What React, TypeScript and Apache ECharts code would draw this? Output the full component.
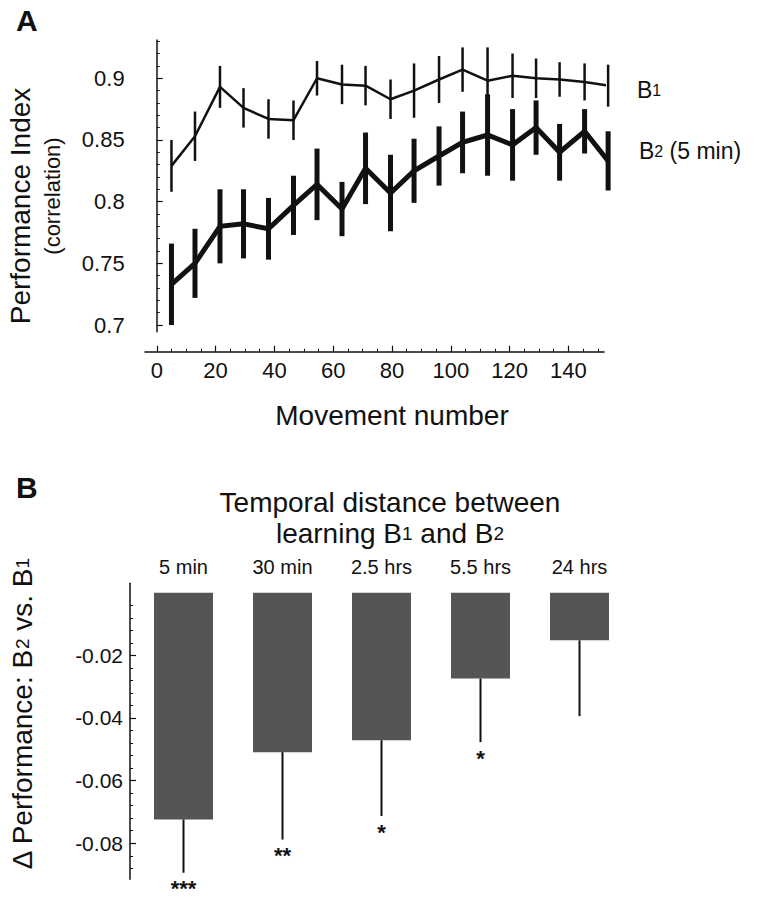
import React, { useEffect, useRef } from "react";
import * as echarts from "echarts";

// ---------- Panel A data ----------
const movement = [5, 13, 21.5, 29.5, 38, 46.5, 54.5, 63, 71, 79.5, 87.5, 96, 104, 112.5, 121, 129, 137, 145.5, 153.5];
const b1 = [0.829, 0.853, 0.893, 0.876, 0.867, 0.866, 0.9, 0.895, 0.894, 0.883, 0.89, 0.899, 0.907, 0.898, 0.902, 0.9, 0.899, 0.897, 0.894];
const b1Err = [0.021, 0.02, 0.017, 0.016, 0.016, 0.016, 0.014, 0.016, 0.016, 0.016, 0.022, 0.019, 0.018, 0.027, 0.018, 0.016, 0.014, 0.015, 0.017];
const b2 = [0.733, 0.75, 0.78, 0.782, 0.778, 0.797, 0.814, 0.794, 0.827, 0.807, 0.825, 0.837, 0.848, 0.854, 0.846, 0.86, 0.84, 0.857, 0.833];
const b2Err = [0.033, 0.028, 0.03, 0.028, 0.025, 0.024, 0.029, 0.022, 0.029, 0.031, 0.026, 0.024, 0.025, 0.033, 0.029, 0.022, 0.023, 0.018, 0.024];
const xTicksA = [0, 20, 40, 60, 80, 100, 120, 140];
const xMinorA = [0, 5, 10, 15, 20, 25, 30, 35, 40, 45, 50, 55, 60, 65, 70, 75, 80, 85, 90, 95, 100, 105, 110, 115, 120, 125, 130, 135, 140, 145, 150];
const yTicksA = [0.7, 0.75, 0.8, 0.85, 0.9];
const yMinorA = [0.7, 0.71, 0.72, 0.73, 0.74, 0.75, 0.76, 0.77, 0.78, 0.79, 0.8, 0.81, 0.82, 0.83, 0.84, 0.85, 0.86, 0.87, 0.88, 0.89, 0.9, 0.91, 0.92, 0.93];

// ---------- Panel B data ----------
const delays = ["5 min", "30 min", "2.5 hrs", "5.5 hrs", "24 hrs"];
const deltaPerf = [-0.0724, -0.0509, -0.0471, -0.0274, -0.0152];
const deltaErr = [0.017, 0.0279, 0.0242, 0.0203, 0.0242];
const stars = ["***", "**", "*", "*", ""];
const yTicksB = [-0.08, -0.06, -0.04, -0.02];
const yMinorB = [-0.088, -0.084, -0.08, -0.076, -0.072, -0.068, -0.064, -0.06, -0.056, -0.052, -0.048, -0.044, -0.04, -0.036, -0.032, -0.028, -0.024, -0.02, -0.016, -0.012, -0.008, -0.004];

const FONT = '"Liberation Sans", Arial, Helvetica, sans-serif';
const INK = "#111";

function errBarSeries(name: string, xs: number[], ys: number[], es: number[], width: number) {
  return {
    type: "custom",
    name,
    xAxisIndex: 0,
    yAxisIndex: 0,
    clip: false,
    data: xs.map((x, i) => [x, ys[i] - es[i], ys[i] + es[i]]),
    renderItem: (params: any, api: any) => {
      const p1 = api.coord([api.value(0), api.value(1)]);
      const p2 = api.coord([api.value(0), api.value(2)]);
      return {
        type: "line",
        shape: { x1: p1[0], y1: p1[1], x2: p2[0], y2: p2[1] },
        style: { stroke: INK, lineWidth: width },
      };
    },
    z: 2,
  };
}

export default function App() {
  const ref = useRef<HTMLDivElement>(null);
  useEffect(() => {
    if (!ref.current) return;
    const chart = echarts.init(ref.current, undefined, { renderer: "svg" });
    const axisLabelA = { color: INK, fontFamily: FONT, fontSize: 22 };
    const option: any = {
      animation: false,
      backgroundColor: "#fff",
      grid: [
        { left: 145, top: 40, width: 459, height: 291.7 },
        { left: 134, top: 583.3, width: 495, height: 296 },
      ],
      xAxis: [
        {
          type: "value", gridIndex: 0, position: "bottom", min: -4, max: 152.1, offset: 20,
          axisLine: { show: true, lineStyle: { color: INK, width: 1.5 } },
          axisTick: { show: true, inside: true, length: 6, customValues: xTicksA, lineStyle: { color: INK, width: 1.2 } },
          axisLabel: { ...axisLabelA, customValues: xTicksA, margin: 8 },
          splitLine: { show: false },
        },
        {
          type: "value", gridIndex: 0, position: "bottom", min: -4, max: 152.1, offset: 20,
          axisLine: { show: false },
          axisTick: { show: true, inside: true, length: 3, customValues: xMinorA, lineStyle: { color: INK, width: 1 } },
          axisLabel: { show: false },
          splitLine: { show: false },
        },
        {
          type: "category", gridIndex: 1, position: "top", data: delays,
          axisLine: { show: false }, axisTick: { show: false },
          axisLabel: { color: INK, fontFamily: FONT, fontSize: 20, margin: 6 },
        },
      ],
      yAxis: [
        {
          type: "value", gridIndex: 0, position: "left", min: 0.6946, max: 0.931, offset: 13.3,
          axisLine: { show: true, lineStyle: { color: INK, width: 1.5 } },
          axisTick: { show: true, inside: true, length: 6, customValues: yTicksA, lineStyle: { color: INK, width: 1.2 } },
          axisLabel: { ...axisLabelA, customValues: yTicksA, margin: 7, formatter: (v: number) => String(+v.toFixed(2)) },
          splitLine: { show: false },
        },
        {
          type: "value", gridIndex: 0, position: "left", min: 0.6946, max: 0.931, offset: 13.3,
          axisLine: { show: false },
          axisTick: { show: true, inside: true, length: 3, customValues: yMinorA, lineStyle: { color: INK, width: 1 } },
          axisLabel: { show: false },
          splitLine: { show: false },
        },
        {
          type: "value", gridIndex: 1, position: "left", min: -0.0915, max: 0.003, offset: 4,
          axisLine: { show: true, lineStyle: { color: INK, width: 1.5 } },
          axisTick: { show: true, inside: true, length: 6, customValues: yTicksB, lineStyle: { color: INK, width: 1.2 } },
          axisLabel: { color: INK, fontFamily: FONT, fontSize: 21, customValues: yTicksB, margin: 7, formatter: (v: number) => String(+v.toFixed(2)) },
          splitLine: { show: false },
        },
        {
          type: "value", gridIndex: 1, position: "left", min: -0.0915, max: 0.003, offset: 4,
          axisLine: { show: false },
          axisTick: { show: true, inside: true, length: 3, customValues: yMinorB, lineStyle: { color: INK, width: 1 } },
          axisLabel: { show: false },
          splitLine: { show: false },
        },
      ],
      series: [
        errBarSeries("B1 err", movement, b1, b1Err, 2.5),
        errBarSeries("B2 err", movement, b2, b2Err, 5),
        {
          type: "line", name: "B1", xAxisIndex: 0, yAxisIndex: 0, clip: false,
          data: movement.map((x, i) => [x, b1[i]]),
          showSymbol: false, symbol: "none",
          lineStyle: { color: INK, width: 2.5 }, z: 3,
        },
        {
          type: "line", name: "B2 (5 min)", xAxisIndex: 0, yAxisIndex: 0, clip: false,
          data: movement.map((x, i) => [x, b2[i]]),
          showSymbol: false, symbol: "none",
          lineStyle: { color: INK, width: 5, join: "miter" }, z: 3,
        },
        {
          type: "bar", name: "Δ Performance", xAxisIndex: 2, yAxisIndex: 2,
          data: deltaPerf, barWidth: 59,
          itemStyle: { color: "#555" },
        },
        {
          type: "custom", name: "Δ err", xAxisIndex: 2, yAxisIndex: 2,
          data: deltaPerf.map((v, i) => [i, v, v - deltaErr[i]]),
          renderItem: (params: any, api: any) => {
            const p1 = api.coord([api.value(0), api.value(1)]);
            const p2 = api.coord([api.value(0), api.value(2)]);
            return {
              type: "group",
              children: [
                { type: "line", shape: { x1: p1[0], y1: p1[1], x2: p2[0], y2: p2[1] }, style: { stroke: INK, lineWidth: 2 } },
                {
                  type: "text",
                  style: { text: stars[params.dataIndex], x: p2[0], y: p2[1] + 5, align: "center", verticalAlign: "top", fill: INK, font: `bold 22px ${FONT}` },
                },
              ],
            };
          },
          z: 3,
        },
      ],
      graphic: [
        { type: "text", x: 16, y: 5, style: { text: "A", font: `bold 30px ${FONT}`, fill: INK, align: "left", verticalAlign: "top" } },
        { type: "text", x: 16, y: 472, style: { text: "B", font: `bold 30px ${FONT}`, fill: INK, align: "left", verticalAlign: "top" } },
        { type: "text", x: 20, y: 206, rotation: Math.PI / 2, style: { text: "Performance Index", font: `28px ${FONT}`, fill: INK, align: "center", verticalAlign: "middle" } },
        { type: "text", x: 52, y: 196, rotation: Math.PI / 2, style: { text: "(correlation)", font: `22px ${FONT}`, fill: INK, align: "center", verticalAlign: "middle" } },
        { type: "text", x: 392, y: 415, style: { text: "Movement number", font: `28px ${FONT}`, fill: INK, align: "center", verticalAlign: "middle" } },
        {
          type: "text", x: 637, y: 90,
          style: { text: "{n|B}{s|1}", fill: INK, align: "left", verticalAlign: "middle", rich: { n: { fontSize: 23, fontFamily: FONT, fill: INK }, s: { fontSize: 16, fontFamily: FONT, fill: INK } } },
        },
        {
          type: "text", x: 639, y: 151,
          style: { text: "{n|B}{s|2}{n| (5 min)}", fill: INK, align: "left", verticalAlign: "middle", rich: { n: { fontSize: 23, fontFamily: FONT, fill: INK }, s: { fontSize: 16, fontFamily: FONT, fill: INK } } },
        },
        { type: "text", x: 390, y: 502, style: { text: "Temporal distance between", font: `28px ${FONT}`, fill: INK, align: "center", verticalAlign: "middle" } },
        {
          type: "text", x: 390, y: 533,
          style: { text: "{n|learning B}{s|1}{n| and B}{s|2}", fill: INK, align: "center", verticalAlign: "middle", rich: { n: { fontSize: 28, fontFamily: FONT, fill: INK }, s: { fontSize: 19, fontFamily: FONT, fill: INK } } },
        },
        {
          type: "text", x: 22, y: 714, rotation: Math.PI / 2,
          style: { text: "{n|Δ Performance: B}{s|2}{n| vs. B}{s|1}", fill: INK, align: "center", verticalAlign: "middle", rich: { n: { fontSize: 28, fontFamily: FONT, fill: INK }, s: { fontSize: 19, fontFamily: FONT, fill: INK } } },
        },
      ],
    };
    chart.setOption(option);
    return () => chart.dispose();
  }, []);
  return <div ref={ref} style={{ position: "fixed", left: 0, top: 0, width: 758, height: 900, background: "#fff" }} />;
}
